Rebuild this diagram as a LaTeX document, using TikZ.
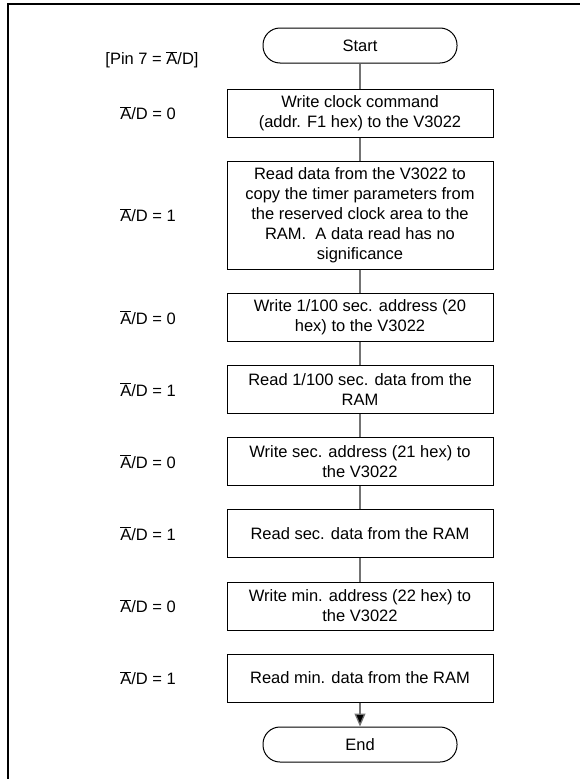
\documentclass[tikz,border=0pt]{standalone}
\usepackage{fontspec}
\setmainfont{Liberation Sans}
\usetikzlibrary{arrows.meta,positioning}

\newcommand{\nA}{$\overline{\mbox{A}}$}

\tikzset{
  stepbox/.style={draw, line width=1pt, minimum width=266pt, minimum height=48pt, align=center, inner sep=2pt},
  termbox/.style={draw, line width=1pt, rounded corners=17pt, minimum width=194pt, minimum height=35pt},
  link/.style={draw=black!55, line width=1.3pt}
}

\begin{document}
\begin{tikzpicture}[x=1pt, y=-1pt, font=\fontsize{16.5}{20}\selectfont]
        \useasboundingbox (0,0) rectangle (579,779);

        % Frame
        \draw[line width=1.2pt] (8,4) rectangle (590,790);

        % Start and End
        \node[termbox] (start) at (360,45.5) {Start};
        \node[termbox] (end) at (360,744.5) {End};

        % Steps
        \node[stepbox] (w1) at (360,113) {Write clock command\\(addr. F1 hex) to the V3022};
        \node[stepbox, minimum height=108pt] (r1) at (360,215) {Read data from the V3022 to\\copy the timer parameters from\\the reserved clock area to the\\RAM.\ \ A data read has no\\significance};
        \node[stepbox] (w2) at (360,317.5) {Write 1/100 sec. address (20\\hex) to the V3022};
        \node[stepbox] (r2) at (360,389.5) {Read 1/100 sec. data from the\\RAM};
        \node[stepbox] (w3) at (360,461.5) {Write sec. address (21 hex) to\\the V3022};
        \node[stepbox] (r3) at (360,533.5) {Read sec. data from the RAM};
        \node[stepbox] (w4) at (360,606) {Write min. address (22 hex) to\\the V3022};
        \node[stepbox] (r4) at (360,678) {Read min. data from the RAM};

        % Pin labels
        \node (pin) at (152,60) {[Pin 7 = \nA/D]};
        \foreach \n/\v in {w1/0, r1/1, w2/0, r2/1, w3/0, r3/1, w4/0, r4/1} {
            \node (lab-\n) at (148,0 |- \n) {\nA/D = \v};
        }

        % Connectors
        \foreach \a/\b in {start/w1, w1/r1, r1/w2, w2/r2, r2/w3, w3/r3, r3/w4} {
            \draw[link] (\a.south) -- (\b.north);
        }
        \draw[link, -{Triangle[length=13pt, width=11pt, fill=black]}] (r4.south) -- (end.north);
    \end{tikzpicture}
\end{document}
